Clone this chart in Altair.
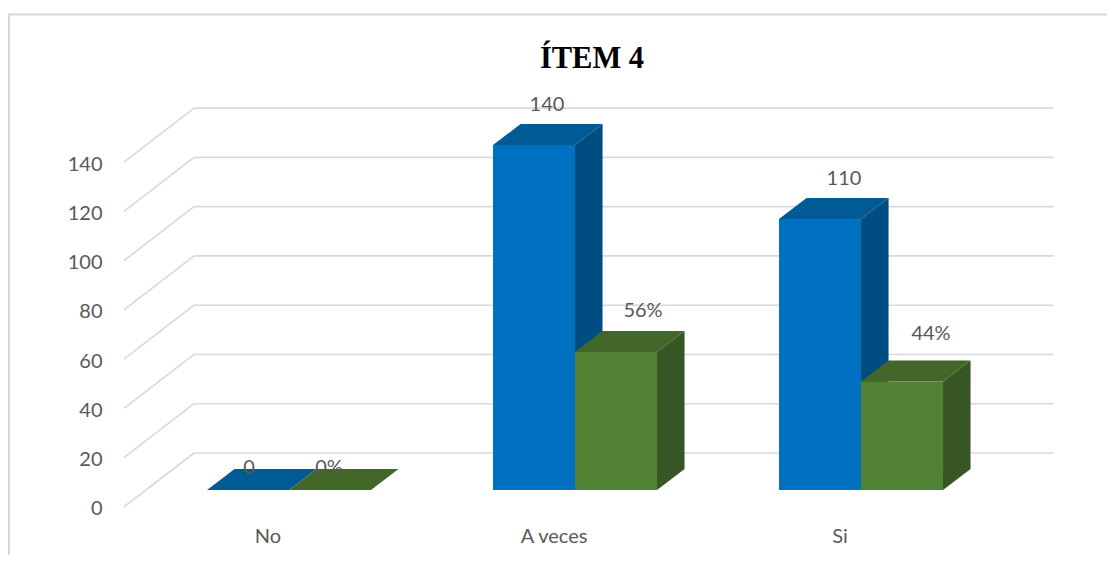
import altair as alt
import pandas as pd

categories = ["No", "A veces", "Si"]
counts = [0, 140, 110]
percents = [0, 56, 44]
y_ticks = [0, 20, 40, 60, 80, 100, 120, 140]

# Drawing proportions, in axis units
BAR_W = 0.2867      # bar width, in category slots
DEPTH_X = 0.0962    # oblique depth of a bar, in category slots
DEPTH_Y = 8.52      # oblique depth of a bar, in value units
WALL_L = -0.332     # back wall left edge
WALL_R = 2.673      # back wall right edge
FLOOR_L = -0.577    # front floor left edge
WALL_UP = 15.0      # back wall rise above the bar base
FLOOR_DOWN = -6.9   # front floor drop below the bar base
PX_X = 1 / 286      # one pixel in slots
PX_Y = 1 / 2.464    # one pixel in value units

# Label nudges from bar centre, pixels
count_nudge = [(1, 22), (13, 40), (24, 40)]
percent_nudge = [(-1, 22), (27, 41), (29, 48)]

W, H = 1099, 541
X_DOM = [-0.9825, 2.860]
Y_DOM = [-26.4, 193.2]
x_s = alt.Scale(domain=X_DOM, nice=False, zero=False)
y_s = alt.Scale(domain=Y_DOM, nice=False, zero=False)
FONT = "Lato"
TXT = "#595959"
GRID = "#D9D9D9"
FS = 20

x_axis = alt.Axis(
    values=[0, 1, 2],
    labelExpr="['" + "','".join(categories) + "'][datum.value]",
    title=None, grid=False, domain=False, ticks=False, orient="bottom",
    offset=-29, labelOffset=-21.5, labelPadding=0, labelFont=FONT,
    labelFontSize=FS, labelColor=TXT, labelOverlap=False, labelFlush=False)
y_axis = alt.Axis(
    values=y_ticks, title=None, grid=False, domain=False, ticks=False,
    orient="left", offset=-94, labelOffset=19, labelPadding=0, labelFont=FONT,
    labelFontSize=FS, labelColor=TXT, labelOverlap=False, labelFlush=False)


def X(f):
    return alt.X(f, scale=x_s, axis=x_axis)


def Y(f):
    return alt.Y(f, scale=y_s, axis=y_axis)


def faces(vals, start, nudges, fmt):
    front, side, top, lab = [], [], [], []
    for i, v in enumerate(vals):
        l = i + start
        r = l + BAR_W
        front.append({"c": i, "l": l, "r": r, "v": v, "b": 0})
        side += [
            {"c": i, "x": r, "y": v, "y2": 0},
            {"c": i, "x": r + DEPTH_X, "y": v + DEPTH_Y, "y2": DEPTH_Y},
        ]
        top += [
            {"c": i, "y": v, "x": l, "x2": r},
            {"c": i, "y": v + DEPTH_Y, "x": l + DEPTH_X, "x2": r + DEPTH_X},
        ]
        lab.append({
            "x": (l + r) / 2 + nudges[i][0] * PX_X,
            "y": v + nudges[i][1] * PX_Y,
            "t": fmt(v),
        })
    return map(pd.DataFrame, (front, side, top, lab))


def bars(vals, start, nudges, fmt, c_front, c_side, c_top):
    front, side, top, lab = faces(vals, start, nudges, fmt)
    s = alt.Chart(side).mark_area(color=c_side, orient="vertical").encode(
        x=X("x:Q"), y=Y("y:Q"), y2="y2:Q", detail="c:N")
    t = alt.Chart(top).mark_area(color=c_top, orient="horizontal").encode(
        x=X("x:Q"), x2="x2:Q", y=Y("y:Q"), detail="c:N")
    f = alt.Chart(front).mark_bar(color=c_front).encode(
        x=X("l:Q"), x2="r:Q", y=Y("v:Q"), y2="b:Q")
    txt = alt.Chart(lab).mark_text(font=FONT, fontSize=FS, color=TXT).encode(
        x=X("x:Q"), y=Y("y:Q"), text="t:N")
    return s, t, f, txt


grid = pd.DataFrame({"t": y_ticks})
grid["y"] = grid["t"] + WALL_UP
grid["x"] = WALL_L
grid["x2"] = WALL_R

diag = pd.DataFrame(
    [{"t": t, "x": FLOOR_L, "y": t + FLOOR_DOWN} for t in y_ticks]
    + [{"t": t, "x": WALL_L, "y": t + WALL_UP} for t in y_ticks]
)

grid_l = alt.Chart(grid).mark_rule(color=GRID, strokeWidth=1.6).encode(
    x=X("x:Q"), x2="x2:Q", y=Y("y:Q"))
diag_l = alt.Chart(diag).mark_line(color=GRID, strokeWidth=1.6).encode(
    x=X("x:Q"), y=Y("y:Q"), detail="t:N")

frame_top = alt.Chart(pd.DataFrame({"a": [0]})).mark_rule(color=GRID, strokeWidth=2).encode(
    x=alt.value(0), x2=alt.value(W), y=alt.value(0.5))
frame_left = alt.Chart(pd.DataFrame({"a": [0]})).mark_rule(color=GRID, strokeWidth=2).encode(
    x=alt.value(1), y=alt.value(0), y2=alt.value(H))

b = bars(counts, -BAR_W, count_nudge, lambda v: str(v), "#0070C0", "#004D82", "#005A96")
g = bars(percents, 0, percent_nudge, lambda v: f"{v}%", "#548235", "#375623", "#436629")

chart = alt.layer(
    grid_l, diag_l, frame_top, frame_left,
    b[0], b[1], b[2], g[0], g[1], g[2], b[3], g[3],
).properties(
    width=W, height=H,
    autosize=alt.AutoSizeParams(type="none"),
    padding={"left": 0, "top": 6, "right": 0, "bottom": 0},
    background="#FFFFFF",
    title=alt.TitleParams(
        "ÍTEM 4", font="Liberation Serif", fontSize=30.5, fontWeight="bold",
        color="#000000", anchor="middle", dx=34.5, offset=-61),
).configure_view(stroke=None)

chart.save("out.html", embed_options={"renderer": "svg", "actions": False})
